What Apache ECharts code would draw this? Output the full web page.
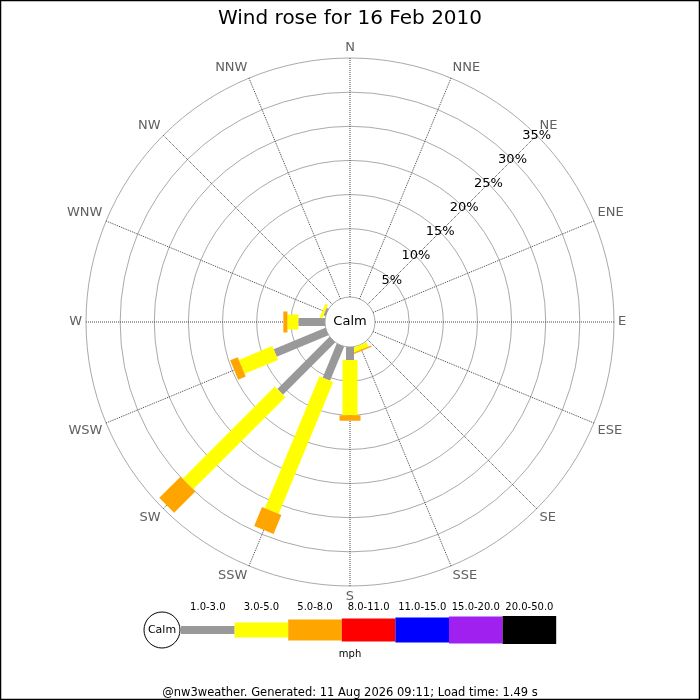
<!DOCTYPE html>
<html>
<head>
<meta charset="utf-8">
<script src="https://cdn.jsdelivr.net/npm/echarts@6/dist/echarts.min.js"></script>
<style>
html, body { margin: 0; padding: 0; background: #fff; }
#main { width: 700px; height: 700px; }
</style>
</head>
<body>
<div id="main"></div>
<script>
// directions, clockwise from N (bearing = index * 22.5)
var directions = ['N', 'NNE', 'NE', 'ENE', 'E', 'ESE', 'SE', 'SSE', 'S', 'SSW', 'SW', 'WSW', 'W', 'WNW', 'NW', 'NNW'];
// percentage of time per speed bin (mph)
var speed1to3 = [0, 0, 0, 0, 0, 0, 0, 0, 1.9, 5.4, 10.8, 8.2, 3.9, 0.3, 0, 0];
var speed3to5 = [0, 0, 0, 0, 0, 0, 0, 0.7, 8.1, 20.9, 19.1, 5.3, 1.6, 0.4, 0, 0];
var speed5to8 = [0, 0, 0, 0, 0, 0, 0, 0.2, 0.8, 3.0, 4.4, 1.2, 0.6, 0, 0, 0];
var speedBins = ['1.0-3.0', '3.0-5.0', '5.0-8.0', '8.0-11.0', '11.0-15.0', '15.0-20.0', '20.0-50.0'];
var binColors = ['#999999', '#ffff00', '#ffa500', '#ff0000', '#0000ff', '#a020f0', '#000000'];
var binWidths = [8, 15, 21, 23, 25, 27, 28];
var radiusTicks = [0, 5, 10, 15, 20, 25, 30, 35];

var CX = 350, CY = 322, R0 = 25, R1 = 264;
var FONT = 'DejaVu Sans';
var STEP = 360 / directions.length;

var binSeries = [speed1to3, speed3to5, speed5to8];
var barData = [];
for (var d = 0; d < directions.length; d++) {
    var acc = 0;
    for (var b = 0; b < binSeries.length; b++) {
        var v = binSeries[b][d];
        if (v > 0) barData.push([acc, d * STEP, acc + v, b]);
        acc += v;
    }
}

function renderBar(params, api) {
    var s = api.value(0), ang = api.value(1), e = api.value(2), bin = api.value(3);
    var p0 = api.coord([s, ang]), p1 = api.coord([e, ang]);
    var a = api.coord([0, ang]), z = api.coord([35, ang]);
    var len = Math.sqrt((z[0] - a[0]) * (z[0] - a[0]) + (z[1] - a[1]) * (z[1] - a[1]));
    var ux = (z[0] - a[0]) / len, uy = (z[1] - a[1]) / len;
    var h = binWidths[bin] / 2, nx = -uy * h, ny = ux * h;
    return {
        type: 'polygon',
        shape: { points: [
            [p0[0] + nx, p0[1] + ny], [p1[0] + nx, p1[1] + ny],
            [p1[0] - nx, p1[1] - ny], [p0[0] - nx, p0[1] - ny]
        ] },
        style: { fill: binColors[bin] }
    };
}

// legend built from bins
var legendEls = [];
var lx = 181, step = 53.6, ly = 630;
legendEls.push({ type: 'circle', shape: { cx: 162, cy: ly, r: 18 }, style: { fill: '#fff', stroke: '#000', lineWidth: 1 } });
legendEls.push({ type: 'text', x: 162, y: ly, style: { text: 'Calm', fill: '#000', font: '11px ' + FONT, align: 'center', verticalAlign: 'middle' } });
for (var i = 0; i < speedBins.length; i++) {
    legendEls.push({ type: 'rect', shape: { x: lx + i * step, y: ly - binWidths[i] / 2, width: step, height: binWidths[i] }, style: { fill: binColors[i] } });
    legendEls.push({ type: 'text', x: lx + i * step + step / 2, y: 607, style: { text: speedBins[i], fill: '#000', font: '10px ' + FONT, align: 'center', verticalAlign: 'middle' } });
}
legendEls.push({ type: 'text', x: 350, y: 654, style: { text: 'mph', fill: '#000', font: '10px ' + FONT, align: 'center', verticalAlign: 'middle' } });

var chart = echarts.init(document.getElementById('main'));
chart.setOption({
    backgroundColor: '#fff',
    animation: false,
    title: {
        text: 'Wind rose for 16 Feb 2010',
        left: 'center', top: 4,
        textStyle: { fontFamily: FONT, fontSize: 20, fontWeight: 'normal', color: '#000' }
    },
    polar: [
        { center: [CX, CY], radius: [R0, R1] },
        { center: [CX, CY], radius: [R0, R1] }
    ],
    angleAxis: [{
        polarIndex: 0,
        type: 'value',
        min: 0, max: 360, interval: STEP,
        startAngle: 90,
        clockwise: true,
        axisLine: { show: false },
        axisTick: { show: false },
        axisLabel: {
            margin: 4, color: '#606060', fontFamily: FONT, fontSize: 13,
            formatter: function (v) { return v >= 360 ? '' : directions[Math.round(v / STEP)]; }
        },
        splitLine: { show: true, lineStyle: { color: '#444', type: 'dotted', width: 1 } }
    }, {
        polarIndex: 1,
        type: 'value',
        min: 0, max: 360,
        startAngle: 45,
        show: false
    }],
    radiusAxis: [{
        polarIndex: 0,
        type: 'value',
        min: radiusTicks[0], max: radiusTicks[radiusTicks.length - 1], interval: 5,
        axisLine: { show: false },
        axisTick: { show: false },
        axisLabel: { show: false },
        splitLine: { show: true, lineStyle: { color: '#aaa', width: 1 } }
    }, {
        polarIndex: 1,
        type: 'value',
        min: radiusTicks[0], max: radiusTicks[radiusTicks.length - 1], interval: 5,
        axisLine: { show: false },
        axisTick: { show: false },
        splitLine: { show: false },
        z: 10,
        axisLabel: {
            margin: 0, align: 'center', verticalAlign: 'middle', rotate: 0,
            color: '#000', fontFamily: FONT, fontSize: 13,
            formatter: function (v) { return v === 0 ? '' : v + '%'; }
        }
    }],
    series: [{
        type: 'custom',
        coordinateSystem: 'polar',
        polarIndex: 0,
        renderItem: renderBar,
        data: barData,
        z: 3
    }],
    graphic: [
        { type: 'rect', shape: { x: 0.5, y: 0.5, width: 699, height: 699 }, style: { fill: null, stroke: '#000', lineWidth: 1.5 }, z: 100 },
        { type: 'text', x: CX, y: CY, style: { text: 'Calm', fill: '#000', font: '13px ' + FONT, align: 'center', verticalAlign: 'middle' } },
        { type: 'group', children: legendEls },
        { type: 'text', x: 350, y: 693, style: { text: '@nw3weather. Generated: 11 Aug 2026 09:11; Load time: 1.49 s', fill: '#000', font: '11.5px ' + FONT, align: 'center', verticalAlign: 'middle' } }
    ]
});
</script>
</body>
</html>
